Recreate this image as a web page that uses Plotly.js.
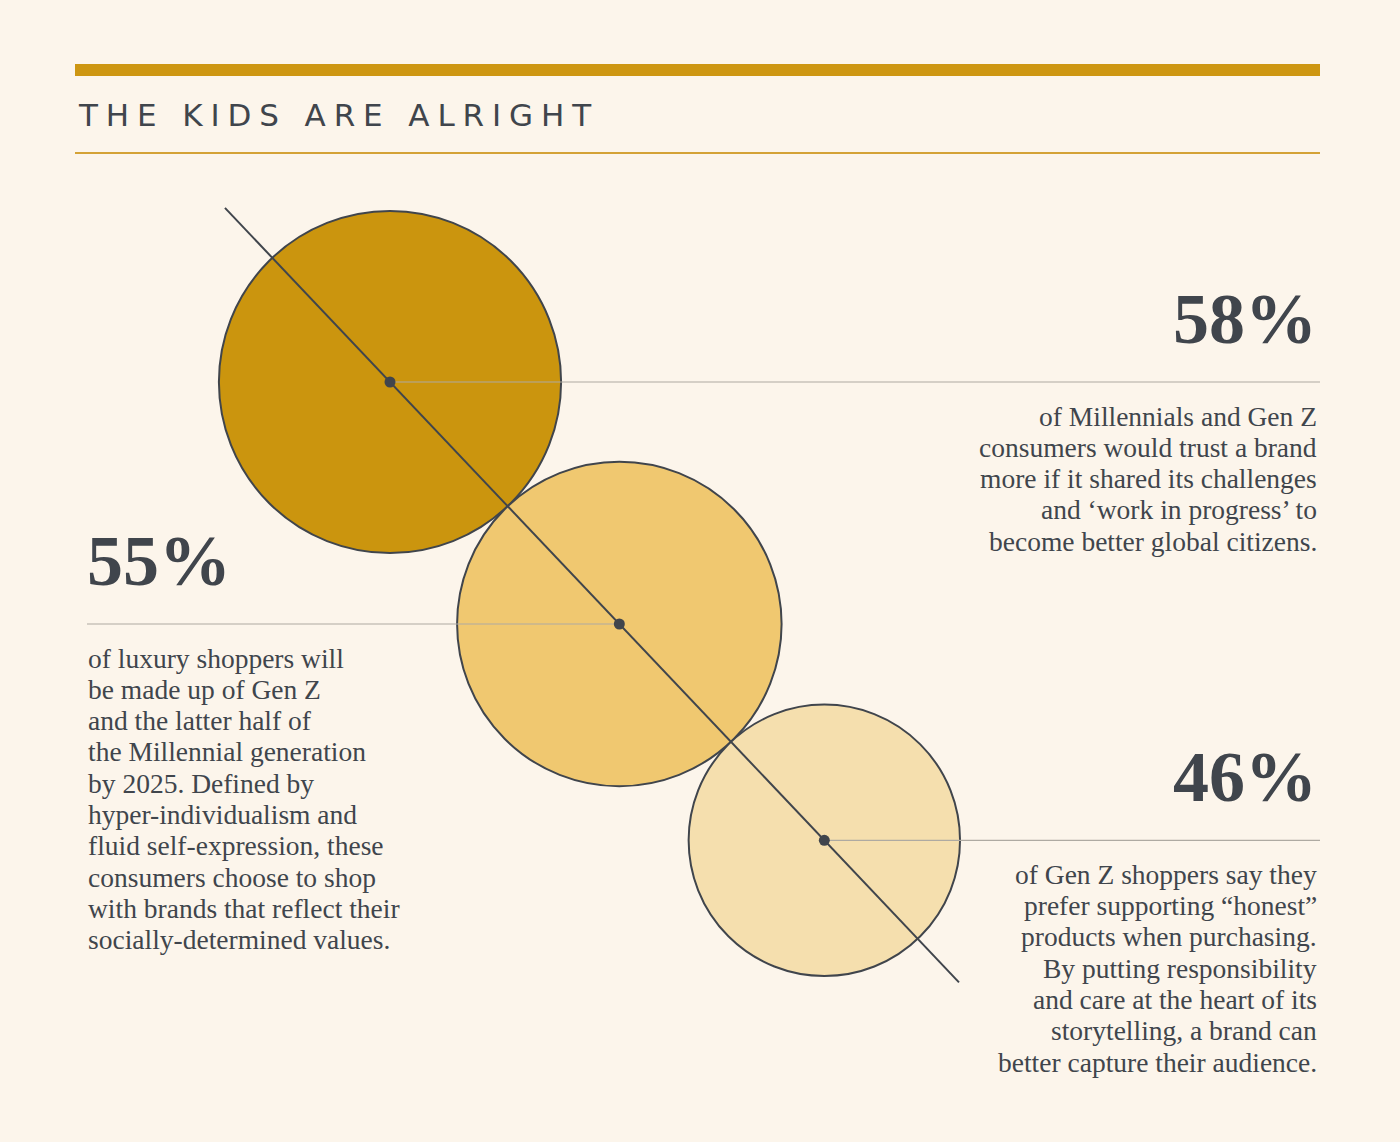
<!DOCTYPE html>
<html>
<head>
<meta charset="utf-8">
<script src="https://cdn.plot.ly/plotly-3.0.1.min.js"></script>
<style>
  html, body { margin: 0; padding: 0; background: #fcf5eb; }
  #chart { width: 1400px; height: 1142px; }
</style>
</head>
<body>
<div id="chart"></div>
<script>
// survey figures, one circle each
var values = [58, 55, 46];
var pctLabels = ['58%', '55%', '46%'];
var blurbs = [
    ['of Millennials and Gen Z',
     'consumers would trust a brand',
     'more if it shared its challenges',
     'and \u2018work in progress\u2019 to',
     'become better global citizens.'],
    ['of luxury shoppers will',
     'be made up of Gen Z',
     'and the latter half of',
     'the Millennial generation',
     'by 2025. Defined by',
     'hyper-individualism and',
     'fluid self-expression, these',
     'consumers choose to shop',
     'with brands that reflect their',
     'socially-determined values.'],
    ['of Gen Z shoppers say they',
     'prefer supporting \u201chonest\u201d',
     'products when purchasing.',
     'By putting responsibility',
     'and care at the heart of its',
     'storytelling, a brand can',
     'better capture their audience.']
];
var sides = ['right', 'left', 'right'];
var title = 'THE KIDS ARE ALRIGHT';

// styling
var fills = ['#cb950e', '#f0c870', '#f5dfae'];
var ink = '#40454c';
var gold = '#cd9612';
var rule = '#aeaaa2';
var K = 2.95;                 // radius px per percentage point
var start = [390, 382];       // centre of first circle
var dir = [0.688, 0.726];     // direction of the chain
var leftX = 87, rightX = 1320;

// circles sit tangent to each other along the diagonal
var radii = values.map(function (v) { return v * K; });
var cx = [], cy = [];
radii.forEach(function (r, i) {
    if (i === 0) { cx.push(start[0]); cy.push(start[1]); return; }
    var d = radii[i - 1] + r;
    cx.push(cx[i - 1] + d * dir[0]);
    cy.push(cy[i - 1] + d * dir[1]);
});

var data = [];

// circles
data.push({
    x: cx, y: cy, type: 'scatter', mode: 'markers',
    marker: {
        size: radii.map(function (r) { return 2 * r; }),
        color: fills,
        opacity: 1,
        line: { color: ink, width: 2 }
    },
    hoverinfo: 'skip'
});

// thin rules from each centre out to its figure
values.forEach(function (v, i) {
    var xs = sides[i] === 'right' ? [cx[i], rightX] : [leftX, cx[i]];
    data.push({
        x: xs, y: [cy[i], cy[i]], type: 'scatter', mode: 'lines',
        line: { color: rule, width: 1.2 }, hoverinfo: 'skip'
    });
});

// diagonal through the centres, running past both ends
var n = cx.length - 1;
var dx = cx[n] - cx[0], dy = cy[n] - cy[0];
data.push({
    x: [cx[0] - 0.38 * dx, cx[n] + 0.31 * dx],
    y: [cy[0] - 0.38 * dy, cy[n] + 0.31 * dy],
    type: 'scatter', mode: 'lines',
    line: { color: ink, width: 2 }, hoverinfo: 'skip'
});

// centre dots
data.push({
    x: cx, y: cy, type: 'scatter', mode: 'markers',
    marker: { size: 11, color: ink }, hoverinfo: 'skip'
});

var annotations = [];
var spaced = title.split('').join('\u2009');
annotations.push({
    xref: 'x', yref: 'y', x: 76, y: 115, xanchor: 'left', yanchor: 'middle',
    text: '<span style="letter-spacing:0.85px">' + spaced + '</span>', showarrow: false,
    font: { family: 'DejaVu Sans', size: 31, color: ink }
});

values.forEach(function (v, i) {
    var right = sides[i] === 'right';
    var ax = right ? 1319 : leftX - 2;
    annotations.push({
        xref: 'x', yref: 'y', x: ax, y: cy[i] - 21,
        xanchor: right ? 'right' : 'left', yanchor: 'bottom',
        text: '<b>' + pctLabels[i] + '</b>', showarrow: false,
        font: { family: 'Liberation Serif', size: 72, color: ink }
    });
    blurbs[i].forEach(function (line, j) {
        annotations.push({
            xref: 'x', yref: 'y', x: right ? 1319 : leftX - 1, y: cy[i] + 34 + j * 31.3,
            xanchor: right ? 'right' : 'left', yanchor: 'middle',
            text: line, showarrow: false,
            font: { family: 'Liberation Serif', size: 27.5, color: ink }
        });
    });
});

var layout = {
    width: 1400,
    height: 1142,
    paper_bgcolor: '#fcf5eb',
    plot_bgcolor: '#fcf5eb',
    margin: { l: 0, r: 0, t: 0, b: 0 },
    showlegend: false,
    xaxis: { range: [0, 1400], visible: false, fixedrange: true },
    yaxis: { range: [1142, 0], visible: false, fixedrange: true },
    shapes: [
        { type: 'rect', xref: 'x', yref: 'y', x0: 75, x1: 1320, y0: 64, y1: 76,
          fillcolor: gold, line: { width: 0 } },
        { type: 'line', xref: 'x', yref: 'y', x0: 75, x1: 1320, y0: 153, y1: 153,
          line: { color: '#d4a236', width: 2 } }
    ],
    annotations: annotations
};

Plotly.newPlot('chart', data, layout, { displayModeBar: false, staticPlot: true });
</script>
</body>
</html>
